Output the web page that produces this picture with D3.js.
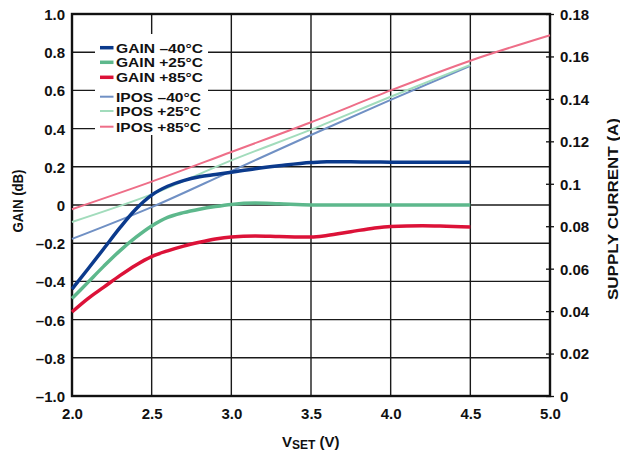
<!DOCTYPE html>
<html>
<head>
<meta charset="utf-8">
<script src="https://cdn.jsdelivr.net/npm/d3@7"></script>
<style>
  html, body { margin: 0; padding: 0; background: #fff; }
  svg text { font-family: "Liberation Sans", Arial, Helvetica, sans-serif; font-weight: bold; fill: #111; }
</style>
</head>
<body>
<svg id="chart" width="620" height="454"></svg>
<script>
// ---- Data ----
const xTicks = [2.0, 2.5, 3.0, 3.5, 4.0, 4.5, 5.0];
const xTickLabels = ["2.0", "2.5", "3.0", "3.5", "4.0", "4.5", "5.0"];
const gainTicks = [1.0, 0.8, 0.6, 0.4, 0.2, 0, -0.2, -0.4, -0.6, -0.8, -1.0];
const gainTickLabels = ["1.0", "0.8", "0.6", "0.4", "0.2", "0", "–0.2", "–0.4", "–0.6", "–0.8", "–1.0"];
const currTicks = [0, 0.02, 0.04, 0.06, 0.08, 0.1, 0.12, 0.14, 0.16, 0.18];
const currTickLabels = ["0", "0.02", "0.04", "0.06", "0.08", "0.1", "0.12", "0.14", "0.16", "0.18"];

const gainVset = [2.0, 2.1, 2.2, 2.3, 2.4, 2.5, 2.6, 2.7, 2.8, 2.9, 3.0, 3.15, 3.3, 3.5, 3.6, 3.75, 3.9, 4.0, 4.2, 4.35, 4.5];
const gainM40 = [-0.44, -0.335, -0.228, -0.12, -0.022, 0.052, 0.098, 0.128, 0.148, 0.16, 0.172, 0.19, 0.205, 0.222, 0.226, 0.226, 0.225, 0.224, 0.224, 0.224, 0.224];
const gainP25 = [-0.49, -0.405, -0.32, -0.24, -0.17, -0.11, -0.065, -0.04, -0.022, -0.008, 0.003, 0.010, 0.006, 0.0, 0.0, 0.0, 0.0, 0.0, 0.0, 0.0, 0.0];
const gainP85 = [-0.56, -0.49, -0.43, -0.37, -0.315, -0.27, -0.24, -0.215, -0.195, -0.178, -0.167, -0.162, -0.165, -0.168, -0.16, -0.14, -0.12, -0.112, -0.108, -0.111, -0.115];

const iposVset = [2.0, 2.5, 3.0, 3.5, 4.0, 4.5];
const iposM40 = [0.074, 0.089, 0.106, 0.123, 0.1395, 0.1556];
const iposP25 = [0.082, 0.095, 0.111, 0.1255, 0.141, 0.156];
const iposP85Vset = [2.0, 2.5, 3.0, 3.5, 4.0, 4.5, 5.0];
const iposP85 = [0.088, 0.101, 0.115, 0.129, 0.144, 0.158, 0.170];

const seriesNames = ["GAIN –40°C", "GAIN +25°C", "GAIN +85°C", "IPOS –40°C", "IPOS +25°C", "IPOS +85°C"];
const seriesColors = ["#0b3a8c", "#5db88c", "#dc1238", "#7090c4", "#a2dcbc", "#ee6e88"];

// ---- Layout ----
const svg = d3.select("#chart");
const L = 72, R = 550, T = 14, B = 396;
const x = d3.scaleLinear().domain([2, 5]).range([L, R]);
const yG = d3.scaleLinear().domain([-1, 1]).range([B, T]);
const yC = d3.scaleLinear().domain([0, 0.18]).range([B, T]);

// grid
const grid = svg.append("g");
grid.selectAll("line.v").data(xTicks.slice(1, -1)).enter().append("line")
  .attr("x1", d => x(d)).attr("x2", d => x(d)).attr("y1", T).attr("y2", B)
  .attr("stroke", "#1a1a1a").attr("stroke-width", 1.4);
grid.selectAll("line.h").data(gainTicks.slice(1, -1)).enter().append("line")
  .attr("x1", L).attr("x2", R).attr("y1", d => yG(d)).attr("y2", d => yG(d))
  .attr("stroke", "#1a1a1a").attr("stroke-width", 1.4);

// legend background
svg.append("rect").attr("x", 95).attr("y", 34).attr("width", 113).attr("height", 101).attr("fill", "#fff");

// axes
const fs = 15;
const axL = svg.append("g").attr("transform", `translate(${L},0)`)
  .call(d3.axisLeft(yG).tickValues(gainTicks).tickFormat((d, i) => gainTickLabels[i]).tickSize(0).tickPadding(7));
const axB = svg.append("g").attr("transform", `translate(0,${B})`)
  .call(d3.axisBottom(x).tickValues(xTicks).tickFormat((d, i) => xTickLabels[i]).tickSize(0).tickPadding(12));
const axR = svg.append("g").attr("transform", `translate(${R},0)`)
  .call(d3.axisRight(yC).tickValues(currTicks).tickFormat((d, i) => currTickLabels[i]).tickSizeInner(4).tickSizeOuter(0).tickPadding(6));
[axL, axB, axR].forEach(a => {
  a.select(".domain").remove();
  a.selectAll("text").attr("font-size", fs).style("font-family", '"Liberation Sans", Arial, sans-serif').style("font-weight", "bold").attr("fill", "#111");
});
axR.selectAll(".tick line").attr("x1", -4).attr("stroke", "#111").attr("stroke-width", 1.3);
axR.selectAll(".tick text").attr("dy", "0.36em");
axL.selectAll(".tick text").attr("dy", "0.36em");

// frame
svg.append("rect").attr("x", L).attr("y", T).attr("width", R - L).attr("height", B - T)
  .attr("fill", "none").attr("stroke", "#111").attr("stroke-width", 2.4);

// lines
const lineG = d3.line().x(d => x(d[0])).y(d => yG(d[1])).curve(d3.curveMonotoneX);
const lineC = d3.line().x(d => x(d[0])).y(d => yC(d[1])).curve(d3.curveMonotoneX);
const iposSets = [
  [iposVset, iposM40, 3], [iposVset, iposP25, 4], [iposP85Vset, iposP85, 5]
];
iposSets.forEach(([xs, ys, ci]) => {
  svg.append("path").datum(xs.map((v, i) => [v, ys[i]])).attr("d", lineC)
    .attr("fill", "none").attr("stroke", seriesColors[ci]).attr("stroke-width", 2);
});
[[gainP85, 2], [gainP25, 1], [gainM40, 0]].forEach(([ys, ci]) => {
  svg.append("path").datum(gainVset.map((v, i) => [v, ys[i]])).attr("d", lineG)
    .attr("fill", "none").attr("stroke", seriesColors[ci]).attr("stroke-width", 3.5);
});

// legend
const legY = [47.7, 62.3, 77.3, 96.7, 111, 126.7];
const leg = svg.append("g");
seriesNames.forEach((name, i) => {
  leg.append("line").attr("x1", 100).attr("x2", 113.5).attr("y1", legY[i]).attr("y2", legY[i])
    .attr("stroke", seriesColors[i]).attr("stroke-width", i < 3 ? 3.5 : 2);
  leg.append("text").attr("x", 116).attr("y", legY[i] + 5).attr("font-size", 13.5)
    .attr("textLength", i < 3 ? 87 : 85).attr("lengthAdjust", "spacingAndGlyphs").text(name);
});

// axis titles
svg.append("text").attr("transform", "translate(23,201) rotate(-90)")
  .attr("text-anchor", "middle").attr("font-size", 14)
  .attr("textLength", 63).attr("lengthAdjust", "spacingAndGlyphs").text("GAIN (dB)");
svg.append("text").attr("transform", "translate(618,209) rotate(-90)")
  .attr("text-anchor", "middle").attr("font-size", 15)
  .attr("textLength", 182).attr("lengthAdjust", "spacingAndGlyphs").text("SUPPLY CURRENT (A)");
const xt = svg.append("text").attr("x", 282).attr("y", 446.5).attr("font-size", 15);
xt.append("tspan").text("V");
xt.append("tspan").attr("font-size", 12).attr("dy", 2.5).text("SET");
xt.append("tspan").attr("dy", -2.5).text(" (V)");
</script>
</body>
</html>
